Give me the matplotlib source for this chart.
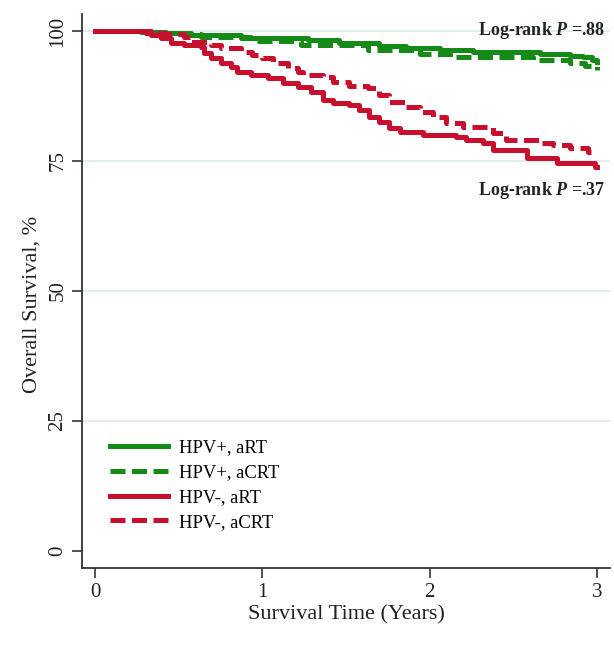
import matplotlib
matplotlib.use("Agg")
import matplotlib.pyplot as plt

# 数据
# HPV-, aRT
t_neg_art = [0, 0.30, 0.33, 0.39, 0.45, 0.53, 0.63, 0.65, 0.69, 0.75, 0.81, 0.85, 0.93,
             1.03, 1.12, 1.21, 1.29, 1.36, 1.42, 1.52, 1.58, 1.64, 1.70, 1.76, 1.82,
             1.96, 2.16, 2.22, 2.32, 2.38, 2.58, 2.76, 2.99, 3.0]
s_neg_art = [100, 99.6, 99.2, 98.7, 97.7, 97.3, 96.9, 95.8, 94.8, 93.8, 93.1, 92.1, 91.5,
             91.0, 90.0, 89.2, 88.3, 86.7, 86.2, 85.8, 84.8, 83.5, 82.5, 81.3, 80.6,
             80.0, 79.6, 79.0, 78.5, 77.1, 75.6, 74.6, 73.8, 73.8]

# HPV-, aCRT
t_neg_acrt = [0, 0.33, 0.42, 0.53, 0.57, 0.69, 0.75, 0.87, 0.94, 1.00, 1.06, 1.15, 1.21,
              1.24, 1.36, 1.42, 1.52, 1.63, 1.70, 1.76, 1.86, 1.94, 2.02, 2.10, 2.20,
              2.38, 2.46, 2.66, 2.74, 2.84, 2.95, 3.0]
s_neg_acrt = [100, 99.6, 99.4, 98.8, 97.9, 97.3, 96.7, 96.0, 95.4, 94.8, 93.8, 92.9, 92.1,
              91.5, 91.2, 90.2, 89.4, 89.0, 87.7, 86.3, 85.4, 84.4, 83.5, 82.3, 81.5,
              80.4, 79.0, 78.5, 78.1, 77.5, 76.7, 76.7]

# HPV+, aRT
t_pos_art = [0, 0.27, 0.42, 0.57, 0.87, 1.27, 1.46, 1.70, 1.86, 2.06, 2.26, 2.66, 2.84,
             2.92, 2.97, 3.0]
s_pos_art = [100, 99.8, 99.6, 99.2, 98.7, 98.3, 97.7, 97.1, 96.7, 96.3, 96.0, 95.6, 95.2,
             95.0, 94.4, 94.0]

# HPV+, aCRT
t_pos_acrt = [0, 0.30, 0.45, 0.63, 0.93, 1.23, 1.63, 1.94, 2.12, 2.62, 2.84, 2.93, 3.0]
s_pos_acrt = [100, 99.7, 99.4, 98.8, 98.1, 97.3, 96.3, 95.6, 95.0, 94.4, 93.8, 93.3, 92.5]

labels = ["HPV+, aRT", "HPV+, aCRT", "HPV-, aRT", "HPV-, aCRT"]
pvals = [".88", ".37"]

green = "#168a16"
red = "#c8102e"

plt.rcParams['font.family'] = ['Liberation Serif', 'DejaVu Serif']
plt.rcParams['mathtext.fontset'] = 'custom'
plt.rcParams['mathtext.bf'] = 'Liberation Serif:bold:italic'

fig = plt.figure(figsize=(6.14, 6.5), dpi=100)
ax = fig.add_axes([0.1336, 0.1262, 0.86, 0.8523])

# 网格线
for y in [25, 50, 75, 100]:
    ax.axhline(y, color="#dce9ee", lw=1.2, zorder=0)

dash = (0, (3.0, 1.3))
ax.step(t_pos_art, s_pos_art, where='post', color=green, lw=3.6, label=labels[0])
ax.step(t_pos_acrt, s_pos_acrt, where='post', color=green, lw=3.6, ls=dash, label=labels[1])
ax.step(t_neg_art, s_neg_art, where='post', color=red, lw=3.6, label=labels[2])
ax.step(t_neg_acrt, s_neg_acrt, where='post', color=red, lw=3.6, ls=dash, label=labels[3])

ax.set_xlim(-0.08, 3.08)
ax.set_ylim(-3.27, 103.27)
ax.set_xticks([0, 1, 2, 3])
ax.set_yticks([0, 25, 50, 75, 100])
ax.tick_params(axis='both', direction='out', length=7, width=1.2, colors='#333333',
               labelsize=15, labelcolor='#222222')
for lab in ax.get_yticklabels():
    lab.set_rotation(90)
    lab.set_va('center')

for side in ['top', 'right']:
    ax.spines[side].set_visible(False)
for side in ['left', 'bottom']:
    ax.spines[side].set_color('#333333')
    ax.spines[side].set_linewidth(1.3)

ax.set_xlabel("Survival Time (Years)", fontsize=16, color='#222222', labelpad=3)
ax.set_ylabel("Overall Survival, %", fontsize=16, color='#222222', labelpad=5)
ax.yaxis.label.set_y(0.475)

ax.text(3.05, 100.1, "Log-rank $\\mathbf{P}$ =" + pvals[0], ha='right', va='center',
        fontsize=13, fontweight='bold', color='#222222')
ax.text(3.05, 69.4, "Log-rank $\\mathbf{P}$ =" + pvals[1], ha='right', va='center',
        fontsize=13, fontweight='bold', color='#222222')

leg = ax.legend(loc='upper left', bbox_to_anchor=(0.053, 0.232), frameon=False,
                borderpad=0, borderaxespad=0, fontsize=13.4, handlelength=3.1,
                labelspacing=0.42, handletextpad=0.6)

fig.savefig("out.png", dpi=100)
